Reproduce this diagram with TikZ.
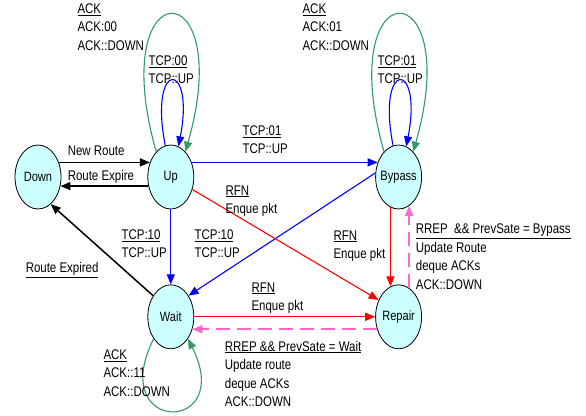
\documentclass[tikz,border=0pt]{standalone}
\usepackage{fontspec}
\setmainfont{Liberation Sans}[FakeStretch=0.82]
\usepackage{tikz}
\usetikzlibrary{shapes.geometric, arrows.meta, positioning}
\definecolor{statefill}{HTML}{CCFFFF}
\definecolor{ackgreen}{HTML}{339966}
\definecolor{rreppink}{HTML}{FF66CC}
\tikzstyle{state} = [ellipse, draw=black, line width=0.8pt, fill=statefill, minimum width=46pt, minimum height=64pt, inner sep=-3pt, font=\fontsize{13.5}{16}\selectfont]
\tikzstyle{lbl} = [anchor=north west, align=left, inner sep=0pt, text=black, font=\fontsize{14}{18.5}\selectfont]
\tikzstyle{arrow} = [line width=1.1pt, -{Triangle[length=10pt, width=8pt]}]
\tikzstyle{karrow} = [arrow, line width=1.5pt, black]
\tikzstyle{barrow} = [arrow, blue]
\tikzstyle{rarrow} = [arrow, red]
\tikzstyle{garrow} = [arrow, ackgreen]
\tikzstyle{parrow} = [arrow, rreppink, line width=1.8pt, dash pattern=on 14pt off 7pt]

\begin{document}
\begin{tikzpicture}[x=1pt, y=-1pt]
  \useasboundingbox (0,0) rectangle (586,415);
  \node[state] (down) at (38,177) {Down};
  \node[state, right=86pt of down] (up) {Up};
  \node[state, right=181pt of up] (bypass) {Bypass};
  \node[state, below=75pt of up] (wait) {Wait};
  \node[state, right=181pt of wait] (repair) {Repair};

  % self loops
  \draw[garrow] (up.120) .. controls +(-52,-183) and +(52,-183) .. (up.60)
    node[lbl] (ackup) at (77,3) {\underline{ACK}\\ACK:00\\ACK::DOWN};
  \draw[barrow] (up.100) .. controls +(-17,-87) and +(17,-87) .. (up.76)
    node[lbl] (tcpup) at (148,55) {\underline{TCP:00}\\TCP::UP};
  \draw[garrow] (bypass.120) .. controls +(-52,-183) and +(52,-183) .. (bypass.60)
    node[lbl] (ackbypass) at (302,3) {\underline{ACK}\\ACK:01\\ACK::DOWN};
  \draw[barrow] (bypass.100) .. controls +(-17,-87) and +(17,-87) .. (bypass.76)
    node[lbl] (tcpbypass) at (377,55) {\underline{TCP:01}\\TCP::UP};
  \draw[garrow] (wait.232) .. controls +(-48,96) and +(48,96) .. (wait.308)
    node[lbl] (ackwait) at (103,349) {\underline{ACK}\\ACK::11\\ACK::DOWN};

  % transitions
  \draw[karrow] (down.35) -- (up.145) node[lbl] (newroute) at (67,145) {New Route};
  \draw[karrow] (up.202) -- (down.338) node[lbl] (routeexpire) at (67,170) {Route Expire};
  \draw[karrow] (wait.130) -- (down.295) node[lbl] (routeexpired) at (25,262) {\underline{Route Expired}};
  \draw[barrow] (up.35) -- (bypass.145) node[lbl] (tcpupbypass) at (242,125) {\underline{TCP:01}\\TCP::UP};
  \draw[barrow] (up.south) -- (wait.north) node[lbl] (tcpupwait) at (121,229) {\underline{TCP:10}\\TCP::UP};
  \draw[barrow] (bypass.170) -- (wait.50) node[lbl] (tcpbypasswait) at (194,229) {\underline{TCP:10}\\TCP::UP};
  \draw[rarrow] (up.330) -- (repair.140) node[lbl] (rfnup) at (225,185) {\underline{RFN}\\Enque pkt};
  \draw[rarrow] (wait.east) -- (repair.west) node[lbl] (rfnwait) at (251,282) {\underline{RFN}\\Enque pkt};
  \draw[rarrow] (bypass.255) -- (repair.105) node[lbl] (rfnbypass) at (333,230) {\underline{RFN}\\Enque pkt};
  \draw[parrow] (repair.210) -- (wait.330) node[lbl] (rrepwait) at (224,340)
    {\underline{RREP \&\& PrevSate = Wait}\\Update route\\deque ACKs\\ACK::DOWN};
  \draw[parrow] (repair.70) -- (bypass.290) node[lbl] (rrepbypass) at (415,223)
    {\underline{RREP\ \ \&\& PrevSate = Bypass}\\Update Route\\deque ACKs\\ACK::DOWN};
\end{tikzpicture}
\end{document}
